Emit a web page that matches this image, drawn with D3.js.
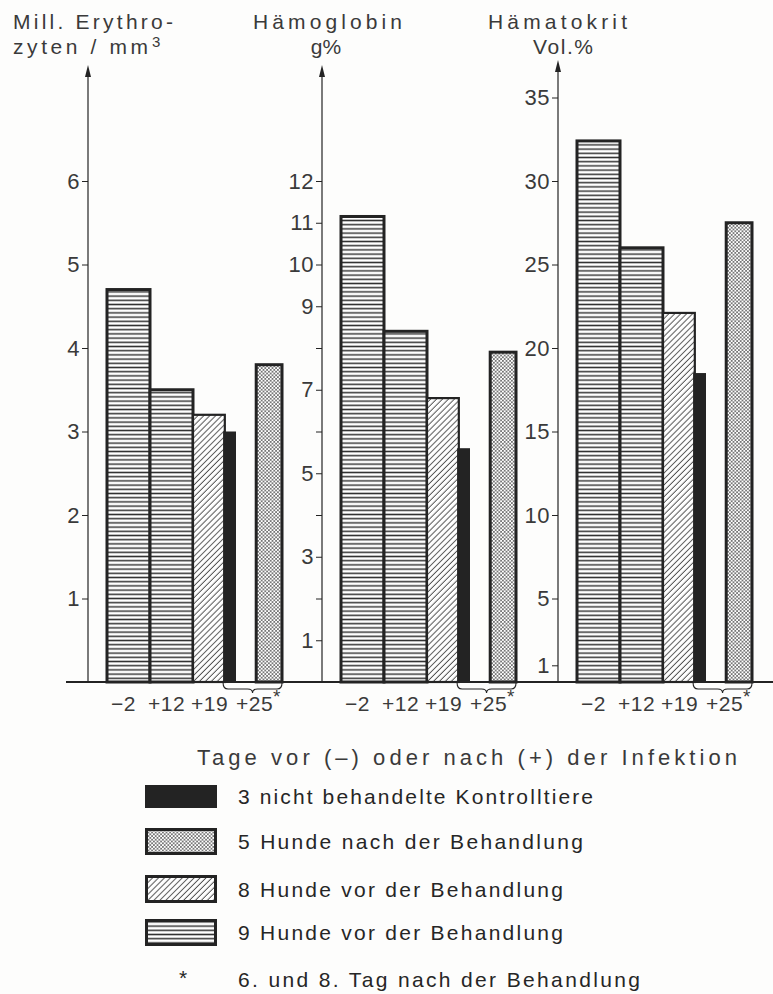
<!DOCTYPE html>
<html>
<head>
<meta charset="utf-8">
<title>Erythrozyten, Hämoglobin, Hämatokrit</title>
<script src="https://cdn.jsdelivr.net/npm/d3@7"></script>
<style>
  body { margin: 0; background: #fff; }
  svg { display: block; font-family: "Liberation Sans", Arial, sans-serif; }
</style>
</head>
<body>
<div id="chart"></div>
<script>
// Tage vor/nach der Infektion (Kategorien)
const tage = ["−2", "+12", "+19", "+25"];

// jede Säule: Tag und Gruppe
const saeulenTag = ["−2", "+12", "+19", "+25", "+25"];
const saeulenGruppe = ["neun", "neun", "acht", "kontrolle", "fuenf"];

// Werte je Säule
const erythrozyten = [4.7, 3.5, 3.2, 3.0, 3.8];
const haemoglobin = [11.15, 8.4, 6.8, 5.6, 7.9];
const haematokrit = [32.4, 26.0, 22.1, 18.5, 27.5];

// Skalen
const ticksEry = [1, 2, 3, 4, 5, 6];
const labelsEry = [1, 2, 3, 4, 5, 6];
const ticksHb = [1, 2, 3, 4, 5, 6, 7, 8, 9, 10, 11, 12];
const labelsHb = [1, 3, 5, 7, 9, 10, 11, 12];
const ticksHk = [1, 5, 10, 15, 20, 25, 30, 35];
const labelsHk = [1, 5, 10, 15, 20, 25, 30, 35];

// Legende
const legendeGruppen = ["kontrolle", "fuenf", "acht", "neun"];
const legendeTexte = [
  "3 nicht behandelte Kontrolltiere",
  "5 Hunde nach der Behandlung",
  "8 Hunde vor der Behandlung",
  "9 Hunde vor der Behandlung"
];
const fussnote = "6. und 8. Tag nach der Behandlung";
const xTitel = "Tage vor (–) oder nach (+) der Infektion";

const W = 773, H = 994;
const ink = "#232323";
const textInk = "#3a3a3a";
const baseY = 682, topY = 181;

let svg = d3.select("#chart").append("svg")
  .attr("width", W).attr("height", H);

svg.append("rect").attr("width", W).attr("height", H).attr("fill", "#fdfdfc");

// Muster
let defs = svg.append("defs");
let p = defs.append("pattern").attr("id", "neun")
  .attr("patternUnits", "userSpaceOnUse").attr("width", 8).attr("height", 4.2);
p.append("rect").attr("width", 8).attr("height", 4.2).attr("fill", "#fff");
p.append("line").attr("x1", 0).attr("x2", 8).attr("y1", 2.1).attr("y2", 2.1)
  .attr("stroke", "#333").attr("stroke-width", 1.5);

p = defs.append("pattern").attr("id", "acht")
  .attr("patternUnits", "userSpaceOnUse").attr("width", 4.2).attr("height", 8)
  .attr("patternTransform", "rotate(45)");
p.append("rect").attr("width", 4.2).attr("height", 8).attr("fill", "#fff");
p.append("line").attr("x1", 2).attr("x2", 2).attr("y1", 0).attr("y2", 8)
  .attr("stroke", "#444").attr("stroke-width", 0.9);

p = defs.append("pattern").attr("id", "fuenf")
  .attr("patternUnits", "userSpaceOnUse").attr("width", 3.6).attr("height", 3.6);
p.append("rect").attr("width", 3.6).attr("height", 3.6).attr("fill", "#fff");
p.append("circle").attr("cx", 0.9).attr("cy", 0.9).attr("r", 0.8).attr("fill", "#333");
p.append("circle").attr("cx", 2.7).attr("cy", 2.7).attr("r", 0.8).attr("fill", "#333");

const fillFor = { neun: "url(#neun)", acht: "url(#acht)", fuenf: "url(#fuenf)", kontrolle: ink };
const strokeW = { neun: 3, acht: 2.2, fuenf: 3, kontrolle: 0 };
// Lage der Säulen innerhalb eines Tages (Anteil der Bandbreite)
const lage = {
  neun: { off: 0, w: 1 },
  acht: { off: 0, w: 0.74 },
  kontrolle: { off: -0.3, w: 0.3 },
  fuenf: { off: 0.47, w: 0.6 }
};

const panels = [
  { ax: 88, max: 6, werte: erythrozyten, ticks: ticksEry, labels: labelsEry, tip: 65 },
  { ax: 322, max: 12, werte: haemoglobin, ticks: ticksHb, labels: labelsHb, tip: 65 },
  { ax: 558, max: 30, werte: haematokrit, ticks: ticksHk, labels: labelsHk, tip: 60 }
];

let x = d3.scaleBand().domain(tage).range([19, 191]).padding(0);
let bw = x.bandwidth();

panels.forEach(function(pn) {
  let g = svg.append("g").attr("transform", "translate(" + pn.ax + ",0)");
  let y = d3.scaleLinear().domain([0, pn.max]).range([baseY, topY]);

  let bars = saeulenTag.map(function(t, i) {
    return { tag: t, gruppe: saeulenGruppe[i], wert: pn.werte[i] };
  });
  // Kontrolltiere zuletzt zeichnen
  bars.sort(function(a, b) { return (a.gruppe === "kontrolle") - (b.gruppe === "kontrolle"); });

  g.selectAll("rect.bar")
    .data(bars)
    .enter()
    .append("rect")
    .attr("class", "bar")
    .attr("x", function(d) { return x(d.tag) + lage[d.gruppe].off * bw; })
    .attr("width", function(d) { return lage[d.gruppe].w * bw; })
    .attr("y", function(d) { return y(d.wert); })
    .attr("height", function(d) { return baseY - y(d.wert); })
    .attr("fill", function(d) { return fillFor[d.gruppe]; })
    .attr("stroke", ink)
    .attr("stroke-width", function(d) { return strokeW[d.gruppe]; });

  // y-Achse mit Pfeil
  g.append("line").attr("x1", 0).attr("x2", 0).attr("y1", baseY).attr("y2", pn.tip + 8)
    .attr("stroke", ink).attr("stroke-width", 1.2);
  g.append("path")
    .attr("d", "M0," + pn.tip + " L-3," + (pn.tip + 12) + " L3," + (pn.tip + 12) + " Z")
    .attr("fill", ink);

  let axis = d3.axisLeft(y)
    .tickValues(pn.ticks)
    .tickSize(6)
    .tickPadding(2)
    .tickFormat(function(d) { return pn.labels.indexOf(d) >= 0 ? d : ""; });
  let ag = g.append("g").call(axis);
  ag.select(".domain").remove();
  ag.selectAll(".tick line").attr("stroke", ink).attr("stroke-width", 1);
  ag.selectAll(".tick text")
    .attr("fill", textInk)
    .attr("font-size", "22px")
    .attr("font-family", "Liberation Sans, Arial, sans-serif")
    .style("letter-spacing", "0.5px");

  // Klammer unter Kontrolltieren und behandelten Hunden
  let bx0 = x("+25") + lage.kontrolle.off * bw;
  let bx1 = x("+25") + (lage.fuenf.off + lage.fuenf.w) * bw;
  let bm = (bx0 + bx1) / 2;
  g.append("path")
    .attr("d", "M" + bx0 + "," + (baseY + 1) +
      " Q" + bx0 + "," + (baseY + 7) + " " + (bx0 + 5) + "," + (baseY + 7) +
      " L" + (bm - 5) + "," + (baseY + 7) +
      " Q" + bm + "," + (baseY + 7) + " " + bm + "," + (baseY + 11) +
      " Q" + bm + "," + (baseY + 7) + " " + (bm + 5) + "," + (baseY + 7) +
      " L" + (bx1 - 5) + "," + (baseY + 7) +
      " Q" + bx1 + "," + (baseY + 7) + " " + bx1 + "," + (baseY + 1))
    .attr("fill", "none").attr("stroke", ink).attr("stroke-width", 1.1);

  // Tage unter der Achse
  let lab = g.selectAll("text.tag")
    .data(tage)
    .enter()
    .append("text")
    .attr("class", "tag")
    .attr("x", function(d) { return x(d) + bw / 2 + (d === "+25" ? 1 : -5); })
    .attr("y", 711)
    .attr("text-anchor", "middle")
    .attr("font-size", "21px")
    .attr("fill", textInk)
    .style("letter-spacing", "0.5px")
    .text(function(d) { return d; });
  lab.filter(function(d) { return d === "+25"; })
    .append("tspan").attr("dy", -8).attr("font-size", "19px").text("*");
});

// Grundlinie
svg.append("line").attr("x1", 66).attr("x2", W).attr("y1", baseY).attr("y2", baseY)
  .attr("stroke", ink).attr("stroke-width", 2.2);

// Achsentitel oben
function kopf(txt, xx, yy, len, anchor) {
  let t = svg.append("text").attr("x", xx).attr("y", yy)
    .attr("font-size", "21px").attr("fill", textInk)
    .attr("text-anchor", anchor || "start")
    .text(txt);
  if (len) t.attr("textLength", len).attr("lengthAdjust", "spacing");
  return t;
}
kopf("Mill. Erythro-", 13, 29, 160);
kopf("zyten / mm", 13, 54, 135);
svg.append("text").attr("x", 152).attr("y", 47).attr("font-size", "15px")
  .attr("fill", textInk).text("3");
kopf("Hämoglobin", 253, 29, 149);
kopf("g%", 326, 54, null, "middle");
kopf("Hämatokrit", 488, 29, 139);
kopf("Vol.%", 533, 54, 60);

// x-Titel
svg.append("text").attr("x", 197).attr("y", 765)
  .attr("font-size", "22px").attr("fill", textInk)
  .attr("textLength", 540).attr("lengthAdjust", "spacing")
  .text(xTitel);

// Legende
const legendY = [785, 828, 875, 919];
const legendH = [23, 27, 28, 27];
const legendEnde = [593, 583, 563, 563];
legendeGruppen.forEach(function(gr, i) {
  svg.append("rect")
    .attr("x", 146.5).attr("y", legendY[i] + 1.5)
    .attr("width", 69).attr("height", legendH[i] - 3)
    .attr("fill", fillFor[gr]).attr("stroke", ink).attr("stroke-width", 3);
  svg.append("text").attr("x", 238).attr("y", legendY[i] + legendH[i] / 2 + 7.5)
    .attr("font-size", "21px").attr("fill", "#262626")
    .attr("textLength", legendEnde[i] - 238).attr("lengthAdjust", "spacing")
    .text(legendeTexte[i]);
});
svg.append("text").attr("x", 183).attr("y", 985).attr("text-anchor", "middle")
  .attr("font-size", "21px").attr("fill", "#262626").text("*");
svg.append("text").attr("x", 238).attr("y", 987)
  .attr("font-size", "21px").attr("fill", "#262626")
  .attr("textLength", 402).attr("lengthAdjust", "spacing")
  .text(fussnote);
</script>
</body>
</html>
